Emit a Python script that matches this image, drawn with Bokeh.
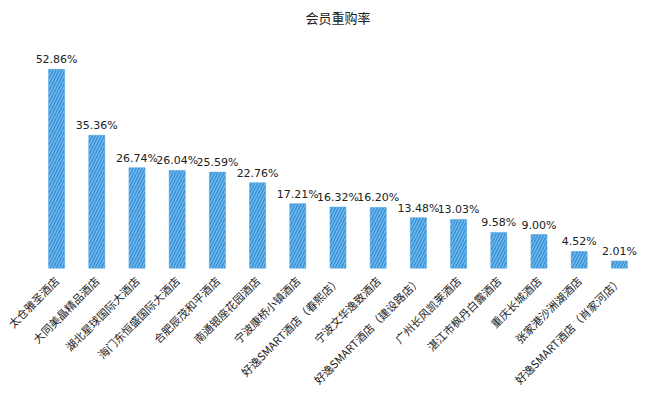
import math
from bokeh.plotting import figure
from bokeh.models import ColumnDataSource, LabelSet, Range1d
from bokeh.core.properties import value
from bokeh.embed import file_html
from bokeh.resources import INLINE

hotels = ["太仓雅圣酒店", "大同美晶精品酒店", "湖北星球国际大酒店", "海门东恒盛国际大酒店",
          "合肥辰茂和平酒店", "南通银座花园酒店", "宁波康桥小镇酒店", "好逸SMART酒店（春熙店）",
          "宁波文华逸致酒店", "好逸SMART酒店（建设路店）", "广州长风凯莱酒店", "湛江市枫丹白露酒店",
          "重庆长城酒店", "张家港沙洲湖酒店", "好逸SMART酒店（肖家河店）"]
rates = [52.86, 35.36, 26.74, 26.04, 25.59, 22.76, 17.21, 16.32, 16.20, 13.48, 13.03, 9.58, 9.00, 4.52, 2.01]
rate_labels = ["%.2f%%" % r for r in rates]

src = ColumnDataSource(dict(x=hotels, y=rates, t=rate_labels))

p = figure(x_range=hotels, width=642, height=395, output_backend="svg",
           toolbar_location=None, title="会员重购率",
           min_border_left=36, min_border_right=3, min_border_top=4)
p.y_range = Range1d(0, 62.9)
p.title.align = "center"
p.title.text_font = "Noto Sans CJK SC"
p.title.text_font_size = "13px"
p.title.text_font_style = "normal"
p.title.text_color = "#222222"

p.vbar(x="x", top="y", width=0.4, source=src, fill_color="#3593da", line_color="#5aa9e4",
       line_width=0.5, hatch_pattern="/", hatch_color="#7fbdea", hatch_scale=6, hatch_weight=1.2)

labels = LabelSet(x="x", y="y", text="t", source=src, text_align="center", text_baseline="bottom",
                  y_offset=3, text_font_size=value("11px"), text_font=value("DejaVu Sans"),
                  text_color=value("#222222"))
p.add_layout(labels)

p.yaxis.visible = False
p.xaxis.major_label_orientation = math.pi / 4
p.xaxis.axis_line_color = None
p.xaxis.major_tick_line_color = None
p.xaxis.minor_tick_line_color = None
p.xaxis.major_label_text_font = "Noto Sans CJK SC"
p.xaxis.major_label_text_font_size = "11px"
p.xaxis.major_label_text_color = "#222222"
p.xaxis.major_label_standoff = 4
p.xgrid.grid_line_color = None
p.ygrid.grid_line_color = None
p.outline_line_color = None
p.border_fill_color = "white"
p.x_range.range_padding = 0

open("out.html", "w").write(file_html(p, INLINE))
